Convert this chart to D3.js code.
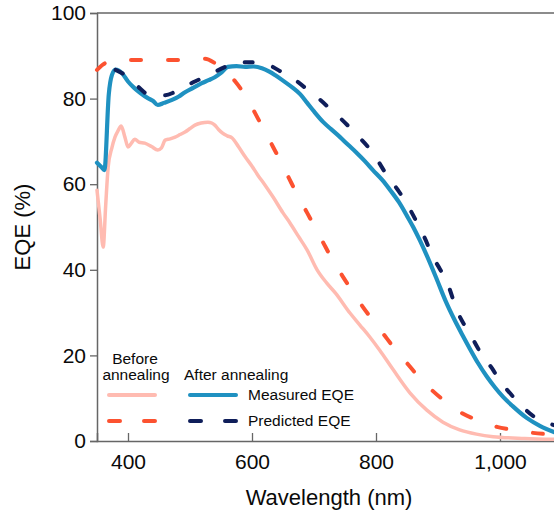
<!DOCTYPE html>
<html>
<head>
<meta charset="utf-8">
<script src="https://cdn.jsdelivr.net/npm/d3@7"></script>
<style>
  body { margin: 0; background: #fff; }
  svg { display: block; font-family: "Liberation Sans", Arial, sans-serif; }
</style>
</head>
<body>
<div id="chart"></div>
<script>
// Data (wavelength in nm, EQE in %)
const afterMeasuredWl = [350,357,362,369,374,380,390,400,410,420,432,440,448,458,471,482,492,505,519,530,540,550,561,575,589,602,616,628,637,650,666,678,689,700,715,728,742,755,769,782,795,810,823,837,850,860,871,882,898,912,927,940,952,965,979,992,1005,1020,1043,1065,1087];
const afterMeasured   = [65,64,63.3,81,85.5,86.8,86,84,82.5,81.3,80.1,79.5,78.5,79,79.7,80.5,81.5,82.5,83.6,84.3,85,86,87.4,87.6,87.4,87.5,87.1,86.3,85.5,84.2,82.5,81,79,77,74.5,72.8,71,69.2,67.3,65.4,63.3,61,58.6,55.8,52.6,50,46.8,43.3,37.8,32.8,28.2,24.6,21.4,18.1,15,12.5,10.3,8.2,5.4,3.5,2.1];

const afterPredictedWl = [380,392,406,420,432,446,460,475,490,505,520,537,555,577,597,613,626,650,673,690,710,726,742,758,774,790,802,815,826,835,844,856,868,880,890,903,915,932,945,957,970,987,1000,1016,1035,1056,1072,1087];
const afterPredicted   = [86.7,85.8,84.3,82.3,81,80.8,80.8,81.5,82.6,83.8,84.8,86,87.3,88.5,88.5,88.3,87.9,86,84,82,79.7,77.6,75.5,73.2,70.8,68.2,65.7,62.7,60.5,58.7,56.8,53.8,50.5,47,43.5,40.2,36.9,30,26.5,23.6,20.3,17,14,11.2,8.2,5.6,4.5,3.7];

const beforeMeasuredWl = [350,355,360,364,368,374,379,384,389,395,400,405,411,418,427,438,448,454,460,468,476,484,492,500,508,518,529,535,540,546,552,560,568,578,589,600,610,620,634,650,661,675,689,705,720,735,758,774,790,806,827,855,882,908,935,962,989,1040,1087];
const beforeMeasured   = [58.6,52,45.3,55,64,68.5,71,72.5,73.6,71,68.7,69.5,70.5,69.8,69.6,68.8,68,68.5,70.3,70.6,71,71.6,72.2,73,73.8,74.3,74.5,74.3,73.8,72.8,72,71.3,70.8,68.8,66.4,64.2,62,60,57,53.3,51,47.8,44.6,40,37,34.5,29.9,27.1,24.3,21.2,16.8,11.2,7.2,4.4,2.6,1.6,1,0.6,0.4];

const beforePredictedWl = [350,360,368,380,416,471,500,524,540,556,573,590,605,620,634,648,661,675,689,702,715,730,747,763,779,795,811,830,850,870,890,912,935,965,995,1025,1053,1087];
const beforePredicted   = [86.7,88,88.6,89,89,89,89.2,89.3,88.3,86.5,84,80.5,76.6,72.5,68.7,64.8,61,57,53.3,49.8,46.3,42.3,38.3,34.8,31.3,28.2,25.2,21.6,18.2,14.8,11.9,9.2,6.8,4.8,3.3,2.5,1.9,1.5];

const xTicks = [400, 600, 800, 1000];
const yTicks = [0, 20, 40, 60, 80, 100];

const colors = {
  beforeMeasured: "#ffbbb1",
  beforePredicted: "#fc5230",
  afterMeasured: "#1f91c1",
  afterPredicted: "#0f1e5a"
};

const W = 554, H = 515;
const svg = d3.select("#chart").append("svg").attr("width", W).attr("height", H);

const x = d3.scaleLinear().domain([350, 1100]).range([97, 562]);
const y = d3.scaleLinear().domain([0, 100]).range([441, 13]);

const axisColor = "#666";
const textColor = "#0a0a0a";

// frame: top border
svg.append("line")
  .attr("x1", x(350)).attr("x2", x(1100))
  .attr("y1", y(100)).attr("y2", y(100))
  .attr("stroke", axisColor).attr("stroke-width", 1.5);

// y axis
const yAxis = svg.append("g")
  .attr("transform", `translate(${x(350)},0)`)
  .call(d3.axisLeft(y).tickValues(yTicks).tickSize(7).tickPadding(4));
yAxis.select(".domain").attr("stroke", axisColor).attr("stroke-width", 1.5);
yAxis.selectAll(".tick line").attr("stroke", axisColor).attr("stroke-width", 1.3);
yAxis.selectAll(".tick text").attr("font-size", 21).attr("fill", textColor)
  .attr("font-family", "Liberation Sans, Arial, sans-serif");

// x axis, ticks pointing inward
const xAxis = svg.append("g")
  .attr("transform", `translate(0,${y(0)})`)
  .call(d3.axisBottom(x).tickValues(xTicks).tickSize(-8).tickPadding(13)
    .tickFormat(d3.format(",")));
xAxis.select(".domain").attr("stroke", axisColor).attr("stroke-width", 1.5);
xAxis.selectAll(".tick line").attr("stroke", axisColor).attr("stroke-width", 1.3);
xAxis.selectAll(".tick text").attr("font-size", 21).attr("fill", textColor)
  .attr("font-family", "Liberation Sans, Arial, sans-serif");

// axis titles
svg.append("text")
  .attr("x", 329).attr("y", 505)
  .attr("text-anchor", "middle")
  .attr("font-size", 22).attr("fill", textColor)
  .text("Wavelength (nm)");

svg.append("text")
  .attr("transform", "translate(30,227) rotate(-90)")
  .attr("text-anchor", "middle")
  .attr("font-size", 22).attr("fill", textColor)
  .text("EQE (%)");

// curves
const line = d3.line()
  .x(d => x(d[0]))
  .y(d => y(d[1]))
  .curve(d3.curveMonotoneX);

const plot = svg.append("g");

function drawSeries(wl, vals, color, width, dash) {
  const p = plot.append("path")
    .datum(wl.map((w, i) => [w, vals[i]]))
    .attr("d", line)
    .attr("fill", "none")
    .attr("stroke", color)
    .attr("stroke-width", width)
    .attr("stroke-linejoin", "round")
    .attr("stroke-linecap", "round");
  if (dash) p.attr("stroke-dasharray", dash);
}

drawSeries(beforeMeasuredWl, beforeMeasured, colors.beforeMeasured, 3.5, null);
drawSeries(beforePredictedWl, beforePredicted, colors.beforePredicted, 4, "10,27");
drawSeries(afterMeasuredWl, afterMeasured, colors.afterMeasured, 4.2, null);
drawSeries(afterPredictedWl, afterPredicted, colors.afterPredicted, 4, "8,21");

// legend
const legend = svg.append("g").attr("font-size", 15.5).attr("fill", textColor);

legend.append("text").attr("x", 135).attr("y", 364).attr("text-anchor", "middle").text("Before");
legend.append("text").attr("x", 136).attr("y", 380).attr("text-anchor", "middle").text("annealing");
legend.append("text").attr("x", 184).attr("y", 380).text("After annealing");
legend.append("text").attr("x", 248).attr("y", 400).text("Measured EQE");
legend.append("text").attr("x", 248).attr("y", 426).text("Predicted EQE");

const legendRows = [
  { x0: 109, x1: 155, yy: 395, color: colors.beforeMeasured, dash: null },
  { x0: 109, x1: 155, yy: 421, color: colors.beforePredicted, dash: "11,24" },
  { x0: 190, x1: 236, yy: 395, color: colors.afterMeasured, dash: null },
  { x0: 190, x1: 236, yy: 421, color: colors.afterPredicted, dash: "11,24" }
];

legendRows.forEach(r => {
  const l = legend.append("line")
    .attr("x1", r.x0).attr("x2", r.x1)
    .attr("y1", r.yy).attr("y2", r.yy)
    .attr("stroke", r.color)
    .attr("stroke-width", 4)
    .attr("stroke-linecap", "round");
  if (r.dash) l.attr("stroke-dasharray", r.dash);
});
</script>
</body>
</html>
